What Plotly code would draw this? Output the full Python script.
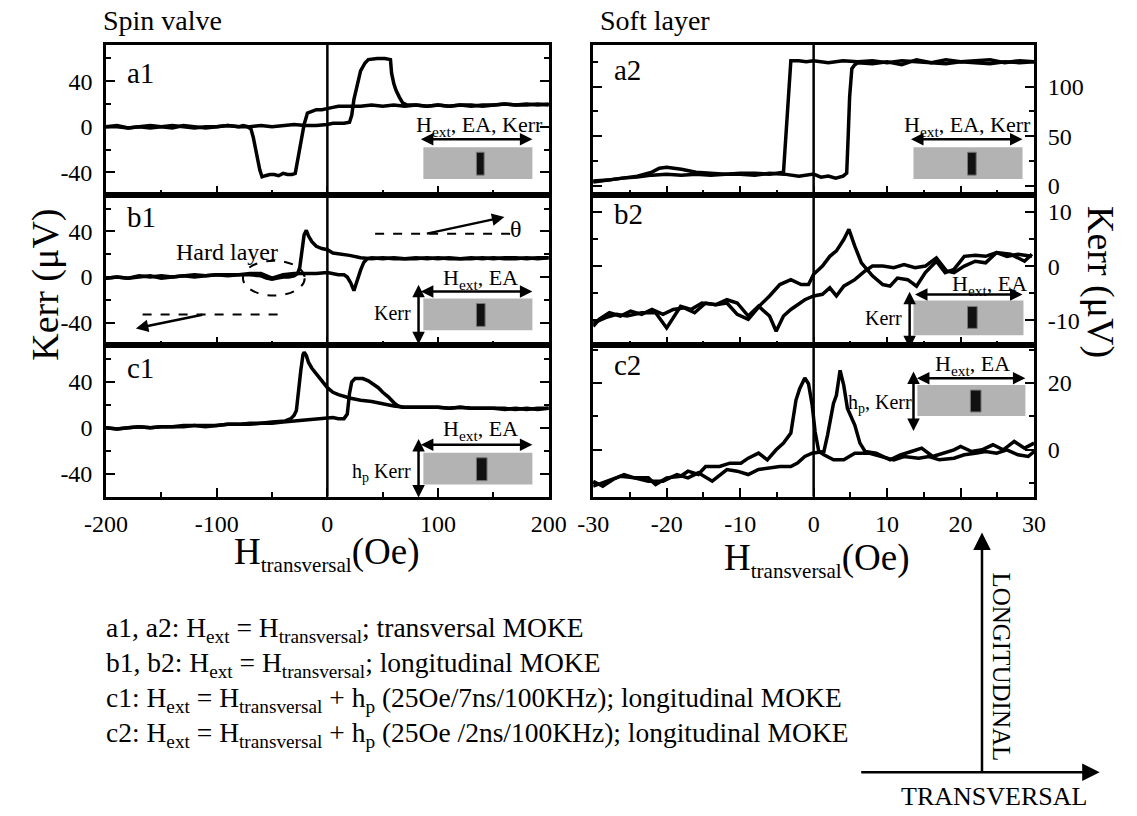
import plotly.graph_objects as go

# ---------------- data ----------------
# a1: spin valve, transversal MOKE
a1_up_h = [-200,-190,-180,-170,-160,-150,-140,-130,-120,-110,-100,-90,-80,-70,-60,-50,-40,-30,-20,-10,
           0,5,10,15,20,22,24,27,30,34,37,45,52,57,58,60,62,65,68,72,
           80,90,100,110,120,130,140,150,160,170,180,190,200]
a1_up_k = [0,1,-1,0,-1,0,1,0,-1,0,0,1,0,0,1,0,1,2,1,1,
           2,3,3,3,4,10,24,38,49,56,59,60,60,59,47,38,32,26,21,19,
           19,18,19,18,19,18,19,19,20,19,20,19,20]
a1_dn_h = [200,190,180,170,160,150,140,130,120,110,100,90,80,70,60,50,40,30,20,10,
           5,0,-5,-10,-15,-18,-21,-24,-27,-29,-32,-36,-40,-44,-48,-52,-56,-59,-61,-63,-65,-67,-69,-72,-76,-80,
           -90,-100,-110,-120,-130,-140,-150,-160,-170,-180,-190,-200]
a1_dn_k = [19,20,19,19,20,19,18,19,19,18,19,18,19,18,19,18,19,18,18,18,
           17,16,15,15,13,12,2,-15,-32,-41,-42,-42,-41,-43,-42,-42,-43,-44,-38,-28,-18,-9,-2,0,1,0,
           1,0,-1,0,1,-1,0,1,0,-1,0,0]

# b1: spin valve, longitudinal MOKE
b1_up_h = [-200,-190,-180,-170,-160,-150,-140,-130,-120,-110,-100,-90,-80,
           -70,-60,-50,-40,-30,-20,-10,0,
           5,10,15,18,21,23,24,25,27,30,33,36,40,
           50,60,70,80,90,100,110,120,130,140,150,160,170,180,190,200]
b1_up_k = [-1,0,-1,1,0,1,0,1,2,1,2,2,2,
           3,3,-1,2,3,3,3,4,
           3,2,2,0,-5,-10,-12,-9,-2,6,13,16,17,
           16,17,16,16,17,16,17,16,16,17,16,17,17,16,17,17]
b1_dn_h = [200,190,180,170,160,150,140,130,120,110,100,90,80,70,60,50,40,
           30,20,10,5,0,-5,-10,-14,-17,-19,-21,-23,-25,-27,-30,-35,-40,-45,-50,-55,-60,-70,-80,
           -90,-100,-110,-120,-130,-140,-150,-160,-170,-180,-190,-200]
b1_dn_k = [17,16,17,16,16,17,16,17,16,16,17,16,17,16,16,17,16,
           17,19,20,21,24,25,27,31,36,41,37,24,8,3,1,0,0,-1,-2,-1,1,2,2,
           1,2,1,0,1,0,-1,1,0,-1,0,-1]

# c1: spin valve, longitudinal MOKE with pulse field
c1_up_h = [-200,-190,-180,-170,-160,-150,-140,-130,-120,-110,-100,-90,-80,-70,-60,-50,-40,-30,-20,-10,
           0,5,10,15,18,20,22,25,28,32,37,42,46,50,55,60,64,68,
           80,90,100,110,120,130,140,150,160,170,180,190,200]
c1_up_k = [0,-1,0,1,0,1,1,2,2,1,2,3,3,3,4,4,5,6,7,8,
           9,9,8,8,12,30,40,43,43,43,41,38,35,31,27,22,19,18,
           18,18,18,17,18,17,17,17,16,17,16,17,17]
c1_dn_h = [200,190,180,170,160,150,140,130,120,110,100,90,80,70,
           60,50,40,30,20,10,5,0,-5,-10,-14,-17,-19,-21,-22,-24,-26,-28,-30,-33,-38,-45,-50,
           -60,-70,-80,-90,-100,-110,-120,-130,-140,-150,-160,-170,-180,-190,-200]
c1_dn_k = [17,16,17,16,17,17,17,17,18,17,18,18,18,18,
           19,21,23,24,26,29,31,35,41,47,52,57,63,66,64,50,30,15,11,8,6,5,5,
           4,4,3,3,2,2,2,1,1,1,0,1,0,-1,0]

# a2: soft layer, transversal MOKE
a2_up_h = [-30,-28,-26,-24,-22,-20,-18,-16,-14,-12,-10,-8,-6,-4,-2,0,
           1,2,3,4,4.5,4.7,4.9,5.2,5.6,
           6,8,10,12,14,16,18,20,22,24,26,28,30]
a2_up_k = [4,6,8,9,11,12,11,12,11,12,12,11,13,12,10,12,
           9,10,8,10,13,50,90,118,122,
           124,123,125,122,127,124,123,125,124,123,125,124,125]
a2_dn_h = [30,28,26,24,22,20,18,16,14,12,10,8,6,4,2,0,
           -1,-2,-3.1,-3.4,-3.7,-4.1,-5,-6,-8,-10,-12,-14,-16,-18,-19,-20,-21,-22,-24,-26,-28,-30]
a2_dn_k = [125,126,124,127,126,125,127,124,125,126,124,126,125,126,124,126,
           125,126,126,90,50,14,13,12,13,13,12,13,14,17,18,19,18,14,10,8,6,5]

# b2: soft layer, longitudinal MOKE
b2_a_h = [-30,-29.2,-27.8,-26.3,-24.9,-23.4,-22,-20.5,-19.1,-17.6,-16.2,-14.7,-13.3,-11.8,-10.4,
          -8.9,-7.2,-6,-4.6,-3.1,-1.7,-0.7,0,1.2,2.2,3.1,4.1,4.8,5.6,6.5,8,9.4,10.4,11.4,12.8,
          14,15.2,16.7,17.9,19.1,20.5,22,23.4,24.9,26.3,27.8,29.7]
b2_a_k = [-11.1,-9.8,-8.6,-9.2,-8.3,-8.9,-8.0,-8.9,-8.0,-7.7,-8.6,-6.8,-7.1,-6.8,-8.9,
          -9.8,-7.1,-5.5,-3.4,-2.5,-3.4,-3.4,-1.5,0,1.8,2.8,4.9,6.8,3.7,0.6,-1.8,-3.4,-3.7,-2.2,-2.5,
          -3.7,-1.2,0.9,-1.2,-0.6,1.8,2.0,1.8,2.5,1.8,2.2,1.8]
b2_b_h = [-30,-28.3,-26.8,-25.4,-23.4,-21.5,-20,-18.1,-16.7,-15.2,-13.3,-11.8,-10.4,-8.9,-7.5,
          -6,-5.1,-4.1,-3.1,-2.2,-1.2,0,1.2,2.2,3.1,4.1,5.6,7,8,9.4,
          10.9,12.3,13.8,15.2,16.7,18.1,19.1,20.5,22,23.4,24.9,26.8,28.7,29.7]
b2_b_k = [-10.5,-9.5,-8.9,-9.2,-8.6,-8.6,-11.4,-7.4,-8.0,-6.8,-7.1,-6.2,-6.8,-9.2,-7.4,
          -9.2,-12.0,-9.2,-8.0,-7.1,-6.2,-5.5,-5.2,-4.0,-5.5,-3.7,-2.5,-0.9,0,0,
          -0.3,0.3,-0.3,0,1.5,-0.9,-1.2,0,0.9,0.6,2.5,2.2,0.9,2.2]

# c2: soft layer, longitudinal MOKE with pulse field
c2_a_h = [-30,-28.7,-27.3,-25.8,-24.4,-22.5,-21.5,-20,-18.1,-17.1,-15.7,-14.7,-12.8,-11.4,-9.9,
          -8.9,-7.5,-6.3,-5.1,-4.1,-3.1,-2.4,-1.9,-1.2,-0.7,-0.2,0.2,0.7,1.4,2.7,
          4.1,5.6,7.5,9.4,10.9,12.3,14.3,15.7,17.1,19.1,20.5,22,23.4,24.9,26.3,27.8,29.2,30]
c2_a_k = [-9.4,-10.9,-8.9,-7.4,-8.4,-8.4,-10.4,-8.4,-7.9,-6.4,-7.4,-5.0,-5.0,-4.0,-4.0,
          -2.5,-1.0,-3.0,0,2.0,5.0,14.9,18.3,21.5,19.8,13.4,5.4,-0.5,-1.5,-3.0,
          -3.0,-1.0,-1.0,-2.0,-3.0,-2.0,-2.5,-2.0,-3.0,-2.5,-1.5,-1.0,-0.5,-1.0,0,-1.5,-2.0,-0.5]
c2_b_h = [-30,-28.3,-26.3,-24.4,-22.5,-20.5,-18.6,-17.1,-15.7,-13.8,-11.8,-10.4,-8.9,-7.5,-6,
          -4.6,-3.1,-2.2,-1.2,-0.2,0.7,1.4,1.9,2.7,3.1,3.6,4.1,4.6,5.6,6.3,
          7,8.5,10.4,11.8,13.3,14.7,16.2,17.6,19.1,20,21.5,22.9,24.4,25.8,27.3,28.7,30]
c2_b_k = [-10.9,-9.4,-7.9,-8.4,-9.4,-9.4,-7.4,-8.4,-6.9,-9.4,-5.9,-6.4,-7.4,-5.9,-5.4,
          -5.0,-5.0,-4.0,-2.0,-1.0,-0.7,-0.5,4.5,13.9,16.3,23.8,19.3,12.4,7.4,2.0,
          -0.5,-1.0,-3.0,-1.5,-0.5,0.5,-2.0,-1.0,0,1.0,-0.5,0,1.5,0,2.5,0.5,2.0]

# tick labels
left_x_ticks = [-200, -100, 0, 100, 200]
left_x_text = ["-200", "-100", "0", "100", "200"]
left_x_minor = [-150, -50, 50, 150]
right_x_ticks = [-30, -20, -10, 0, 10, 20, 30]
right_x_text = ["-30", "-20", "-10", "0", "10", "20", "30"]
right_x_minor = [-25, -15, -5, 5, 15, 25]
left_y_ticks = [-40, 0, 40]
left_y_text = ["-40", "0", "40"]
left_y_minor = [-60, -20, 20, 60]
a2_y_ticks = [0, 50, 100]
a2_y_text = ["0", "50", "100"]
a2_y_minor = [25, 75, 125]
b2_y_ticks = [-10, 0, 10]
b2_y_text = ["-10", "0", "10"]
b2_y_minor = [-5, 5]
c2_y_ticks = [0, 20]
c2_y_text = ["0", "20"]
c2_y_minor = [-10, 10, 30]

panel_labels = ["a1", "b1", "c1", "a2", "b2", "c2"]
caption_lines = [
    "a1, a2: H<sub>ext</sub> = H<sub>transversal</sub>; transversal MOKE",
    "b1, b2: H<sub>ext</sub> = H<sub>transversal</sub>; longitudinal MOKE",
    "c1: H<sub>ext</sub> = H<sub>transversal</sub> + h<sub>p</sub> (25Oe/7ns/100KHz); longitudinal MOKE",
    "c2: H<sub>ext</sub> = H<sub>transversal</sub> + h<sub>p</sub> (25Oe /2ns/100KHz); longitudinal MOKE",
]

# ---------------- figure ----------------
W, H = 1137, 816
FONT = "Liberation Serif"


def px(x):
    return x / W


def py(y):
    return 1 - y / H


fig = go.Figure()

series = [
    ("x", "y", a1_up_h, a1_up_k), ("x", "y", a1_dn_h, a1_dn_k),
    ("x2", "y2", b1_up_h, b1_up_k), ("x2", "y2", b1_dn_h, b1_dn_k),
    ("x3", "y3", c1_up_h, c1_up_k), ("x3", "y3", c1_dn_h, c1_dn_k),
    ("x4", "y4", a2_up_h, a2_up_k), ("x4", "y4", a2_dn_h, a2_dn_k),
    ("x5", "y5", b2_a_h, b2_a_k), ("x5", "y5", b2_b_h, b2_b_k),
    ("x6", "y6", c2_a_h, c2_a_k), ("x6", "y6", c2_b_h, c2_b_k),
]
for xa, ya, hx, ky in series:
    fig.add_trace(go.Scatter(x=hx, y=ky, xaxis=xa, yaxis=ya, mode="lines",
                             line=dict(color="black", width=3.5),
                             showlegend=False, hoverinfo="skip"))

tickfont = dict(family=FONT, size=24, color="black")


def xax(dom, anchor, rng, tv, tt, mv, show):
    return dict(domain=dom, anchor=anchor, range=rng, tickmode="array", tickvals=tv, ticktext=tt,
                showticklabels=show, ticks="inside", ticklen=9, tickwidth=2, tickcolor="black",
                minor=dict(tickmode="array", tickvals=mv, ticks="inside", ticklen=5, tickwidth=2,
                           tickcolor="black"),
                showline=True, linewidth=2.5, linecolor="black", mirror=True,
                showgrid=False, zeroline=False, tickfont=tickfont, ticklabelstandoff=4,
                fixedrange=True)


def yax(dom, anchor, rng, tv, tt, mv, side):
    return dict(domain=dom, anchor=anchor, range=rng, tickmode="array", tickvals=tv, ticktext=tt,
                side=side, ticks="inside", ticklen=9, tickwidth=2, tickcolor="black",
                minor=dict(tickmode="array", tickvals=mv, ticks="inside", ticklen=5, tickwidth=2,
                           tickcolor="black"),
                showline=True, linewidth=2.5, linecolor="black", mirror="ticks",
                showgrid=False, zeroline=False, tickfont=tickfont, ticklabelstandoff=6,
                fixedrange=True)


LX = [px(87), px(546)]
RX = [px(592), px(1049)]
RA = [py(196), py(45)]
RB = [py(347), py(196)]
RC = [py(499), py(347)]

fig.update_layout(
    width=W, height=H, margin=dict(l=0, r=0, t=0, b=0), autosize=False,
    paper_bgcolor="white", plot_bgcolor="white", showlegend=False,
    xaxis=xax(LX, "y", [-200, 200], left_x_ticks, left_x_text, left_x_minor, False),
    xaxis2=xax(LX, "y2", [-200, 200], left_x_ticks, left_x_text, left_x_minor, False),
    xaxis3=xax(LX, "y3", [-200, 200], left_x_ticks, left_x_text, left_x_minor, True),
    xaxis4=xax(RX, "y4", [-30, 30], right_x_ticks, right_x_text, right_x_minor, False),
    xaxis5=xax(RX, "y5", [-30, 30], right_x_ticks, right_x_text, right_x_minor, False),
    xaxis6=xax(RX, "y6", [-30, 30], right_x_ticks, right_x_text, right_x_minor, True),
    yaxis=yax(RA, "x", [-60, 72], left_y_ticks, left_y_text, left_y_minor, "left"),
    yaxis2=yax(RB, "x2", [-60, 72], left_y_ticks, left_y_text, left_y_minor, "left"),
    yaxis3=yax(RC, "x3", [-60, 72], left_y_ticks, left_y_text, left_y_minor, "left"),
    yaxis4=yax(RA, "x4", [-9, 142], a2_y_ticks, a2_y_text, a2_y_minor, "right"),
    yaxis5=yax(RB, "x5", [-14.6, 13.1], b2_y_ticks, b2_y_text, b2_y_minor, "right"),
    yaxis6=yax(RC, "x6", [-14, 31.3], c2_y_ticks, c2_y_text, c2_y_minor, "right"),
)

# zero-field vertical lines
for xa, ya in [("x", "y"), ("x2", "y2"), ("x3", "y3"), ("x4", "y4"), ("x5", "y5"), ("x6", "y6")]:
    fig.add_shape(type="line", xref=xa, yref=ya + " domain", x0=0, x1=0, y0=0, y1=1,
                  line=dict(color="black", width=2.5))

shapes = []
annos = []


def txt(text, x, y, size, xanchor="center", yanchor="middle", angle=0):
    annos.append(dict(text=text, x=px(x), y=py(y), xref="paper", yref="paper", showarrow=False,
                      xanchor=xanchor, yanchor=yanchor, textangle=angle,
                      font=dict(family=FONT, size=size, color="black")))


def arrow(tx, ty, hx, hy, both=False, size=1.0, width=2.5):
    annos.append(dict(text="", x=px(hx), y=py(hy), xref="paper", yref="paper",
                      ax=tx - hx, ay=ty - hy, axref="pixel", ayref="pixel", showarrow=True,
                      arrowhead=2, startarrowhead=2, arrowsize=size, startarrowsize=size,
                      arrowwidth=width, arrowcolor="black",
                      arrowside="end+start" if both else "end", standoff=0, startstandoff=0))


def rect(x0, y0, x1, y1, fill, lc=None, lw=0):
    shapes.append(dict(type="rect", xref="paper", yref="paper", x0=px(x0), x1=px(x1),
                       y0=py(y1), y1=py(y0), fillcolor=fill, layer="above",
                       line=dict(color=lc or fill, width=lw)))


def dline(x0, y0, x1, y1):
    shapes.append(dict(type="line", xref="paper", yref="paper", x0=px(x0), x1=px(x1),
                       y0=py(y0), y1=py(y1), line=dict(color="black", width=2, dash="dash")))


GRAY = "#b3b3b3"
# insets: sample sketch
for (gx0, gy0, gx1, gy1, bx0, by0, bx1, by1) in [
    (416, 148, 529, 180, 471, 153, 479, 176),
    (924, 148, 1037, 180, 980, 153, 989, 176),
    (416, 300, 529, 332, 471, 305, 480, 328),
    (924, 302, 1038, 337, 980, 308, 990, 330),
    (416, 455, 529, 487, 471, 460, 482, 483),
    (928, 387, 1040, 418, 983, 392, 994, 414),
]:
    rect(gx0, gy0, gx1, gy1, GRAY)
    rect(bx0, by0, bx1, by1, "#111111", "#777777", 1)

# double arrows
arrow(416, 140, 529, 140, True)
arrow(924, 140, 1037, 140, True)
arrow(416, 293, 529, 293, True)
arrow(411, 285, 411, 346, True)
arrow(928, 296, 1037, 296, True)
arrow(920, 292, 920, 350, True)
arrow(416, 447, 529, 447, True)
arrow(411, 440, 411, 500, True)
arrow(930, 380, 1040, 380, True)
arrow(924, 372, 924, 433, True)

txt("H<sub>ext</sub>, EA, Kerr", 474, 127, 22)
txt("H<sub>ext</sub>, EA, Kerr", 980, 127, 22)
txt("H<sub>ext</sub>, EA", 475, 280, 22)
txt("H<sub>ext</sub>, EA", 1003, 286, 22)
txt("H<sub>ext</sub>, EA", 475, 432, 22)
txt("H<sub>ext</sub>, EA", 985, 367, 22)
txt("Kerr", 405, 315, 20, xanchor="right")
txt("Kerr", 914, 320, 20, xanchor="right")
txt("h<sub>p</sub> Kerr", 405, 475, 20, xanchor="right")
txt("h<sub>p</sub>, Kerr", 854, 405, 20, xanchor="left")

# b1 extras: hard layer marker and angle sketches
shapes.append(dict(type="circle", xref="paper", yref="paper", x0=px(229), x1=px(293),
                   y0=py(297), y1=py(262), line=dict(color="black", width=2, dash="dash")))
txt("Hard layer", 212, 253, 24)
dline(366, 235, 511, 235)
arrow(421, 235, 500, 218)
txt("θ", 512, 230, 24)
dline(125, 316, 271, 316)
arrow(186, 316, 118, 330)

# panel labels
for lab, (x, y) in zip(panel_labels, [(107, 73), (107, 218), (107, 370), (611, 70), (611, 215), (611, 367)]):
    txt(lab, x, y, 29, xanchor="left")

# titles
txt("Spin valve", 82, 21, 28, xanchor="left")
txt("Soft layer", 597, 21, 28, xanchor="left")
txt("Kerr (μV)", 24, 286, 38, angle=-90)
txt("Kerr (μV)", 1118, 283, 38, angle=90)
txt("H<sub><span style='font-size:21px'>transversal</span></sub>(Oe)", 316, 557, 37)
txt("H<sub><span style='font-size:21px'>transversal</span></sub>(Oe)", 824, 563, 37)

# caption
for i, line in enumerate(caption_lines):
    txt(line, 85, 633 + 35 * i, 27.5, xanchor="left")

# orientation sketch
arrow(995, 776, 995, 535, size=1.4)
arrow(877, 776, 1117, 776, size=1.4)
txt("LONGITUDINAL", 1015, 670, 25, angle=90)
txt("TRANSVERSAL", 1007, 800, 26)

fig.update_layout(shapes=list(fig.layout.shapes) + shapes, annotations=annos)
fig.write_html("out.html", config={"displayModeBar": False},
               post_script="document.body.style.margin='0px';")
